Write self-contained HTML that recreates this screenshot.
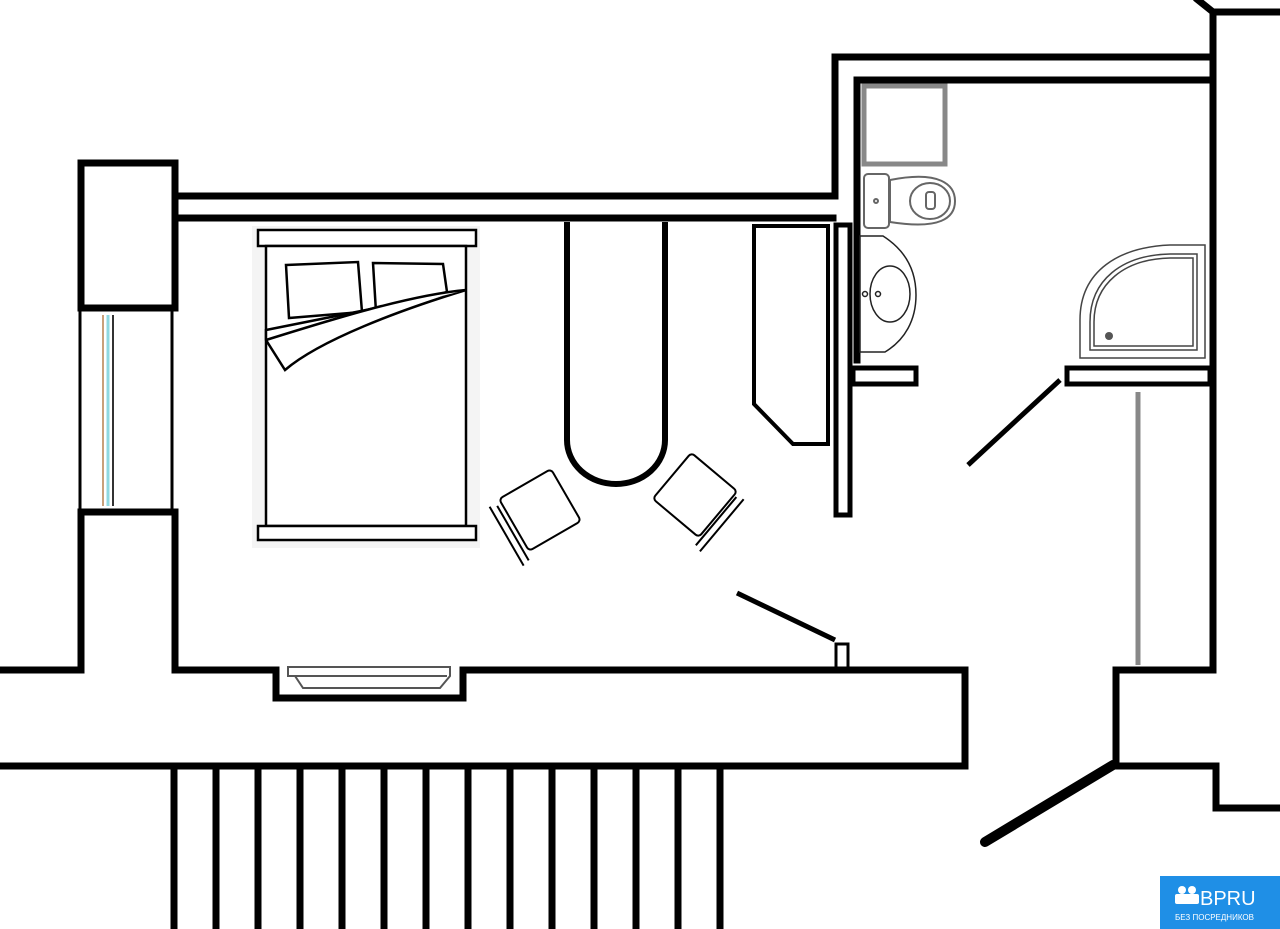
<!DOCTYPE html>
<html><head><meta charset="utf-8"><style>
html,body{margin:0;padding:0;background:#fff;width:1280px;height:929px;overflow:hidden}
svg{display:block}
</style></head><body>
<svg width="1280" height="929" viewBox="0 0 1280 929" xmlns="http://www.w3.org/2000/svg">
<rect width="1280" height="929" fill="#fff"/>
<g stroke="#000" fill="none" stroke-width="7" stroke-linecap="square">
  <rect x="81" y="163" width="94" height="145"/>
  <line x1="175" y1="196" x2="833" y2="196"/>
  <line x1="175" y1="218" x2="833" y2="218"/>
  <line x1="175" y1="218" x2="175" y2="308"/>
  <line x1="81" y1="512" x2="175" y2="512"/>
  <line x1="81" y1="512" x2="81" y2="670"/>
  <line x1="175" y1="512" x2="175" y2="670"/>
  <line x1="0" y1="670" x2="81" y2="670"/>
  <polyline points="175,670 276,670 276,698 463,698 463,670 965,670"/>
  <line x1="0" y1="766" x2="965" y2="766"/>
  <line x1="965" y1="670" x2="965" y2="766"/>
  <polyline points="835,196 835,57 1213,57"/>
  <line x1="857" y1="80" x2="1213" y2="80"/>
  <line x1="857" y1="80" x2="857" y2="360"/>
  <line x1="1213" y1="12" x2="1213" y2="670"/>
  <line x1="1213" y1="12" x2="1280" y2="12"/>
  <line x1="1198" y1="0" x2="1213" y2="12"/>
  <polyline points="1213,670 1116,670 1116,766 1216,766 1216,808 1280,808"/>
</g>
<g stroke="#000" fill="none" stroke-width="5">
  <rect x="836" y="225" width="14" height="290"/>
  <rect x="853" y="368" width="63" height="16"/>
  <rect x="1067" y="368" width="143" height="16"/>
</g>
<g stroke="#000" stroke-width="3">
  <line x1="80" y1="308" x2="80" y2="512"/>
  <line x1="172" y1="308" x2="172" y2="512"/>
</g>
<line x1="103" y1="315" x2="103" y2="506" stroke="#c9a07a" stroke-width="2"/>
<line x1="108" y1="315" x2="108" y2="506" stroke="#8fd8e0" stroke-width="3"/>
<line x1="113" y1="315" x2="113" y2="506" stroke="#333" stroke-width="2"/>
<g stroke="#000" stroke-width="7">
  <line x1="174" y1="766" x2="174" y2="929"/><line x1="216" y1="766" x2="216" y2="929"/>
  <line x1="258" y1="766" x2="258" y2="929"/><line x1="300" y1="766" x2="300" y2="929"/>
  <line x1="342" y1="766" x2="342" y2="929"/><line x1="384" y1="766" x2="384" y2="929"/>
  <line x1="426" y1="766" x2="426" y2="929"/><line x1="468" y1="766" x2="468" y2="929"/>
  <line x1="510" y1="766" x2="510" y2="929"/><line x1="552" y1="766" x2="552" y2="929"/>
  <line x1="594" y1="766" x2="594" y2="929"/><line x1="636" y1="766" x2="636" y2="929"/>
  <line x1="678" y1="766" x2="678" y2="929"/><line x1="720" y1="766" x2="720" y2="929"/>
</g>
<g stroke="#555" stroke-width="2" fill="#fff">
  <path d="M288,667 H450 V676 L440,688 H303 L295,676 H288 Z"/>
  <line x1="293" y1="676" x2="447" y2="676"/>
</g>
<rect x="252" y="226" width="228" height="322" fill="#f4f4f4"/>
<g stroke="#000" stroke-width="2.5" fill="#fff">
  <rect x="258" y="230" width="218" height="16"/>
  <rect x="266" y="246" width="200" height="280"/>
  <rect x="258" y="526" width="218" height="14"/>
  <path d="M286,265 L358,262 L362,312 L289,318 Z"/>
  <path d="M373,263 L443,264 L447,292 L376,312 Z"/>
  <path d="M266,330 L466,290 C400,310 320,340 285,370 L266,340 Z"/>
  <path d="M266,340 C330,320 410,295 466,290"/>
</g>
<path d="M567,222 V440 A49,44 0 0 0 665,440 V222" fill="none" stroke="#000" stroke-width="6"/>
<path d="M754,226 H828 V444 H793 L754,404 Z" fill="none" stroke="#000" stroke-width="4"/>
<g stroke="#000" stroke-width="2" fill="#fff">
  <g transform="translate(540,510) rotate(-30)"><rect x="-30" y="-30" width="60" height="60" rx="4"/><line x1="-42" y1="-28" x2="-42" y2="40"/><line x1="-35" y1="-25" x2="-35" y2="38"/></g>
  <g transform="translate(695,495) rotate(40)"><rect x="-30" y="-30" width="60" height="60" rx="4"/><line x1="40" y1="-28" x2="40" y2="40"/><line x1="33" y1="-25" x2="33" y2="38"/></g>
</g>
<line x1="737" y1="593" x2="835" y2="640" stroke="#000" stroke-width="5"/>
<rect x="836" y="644" width="12" height="24" fill="#fff" stroke="#000" stroke-width="3"/>
<line x1="1060" y1="380" x2="968" y2="465" stroke="#000" stroke-width="5"/>
<line x1="1138" y1="392" x2="1138" y2="665" stroke="#888" stroke-width="5"/>
<line x1="1113" y1="765" x2="985" y2="842" stroke="#000" stroke-width="10" stroke-linecap="round"/>
<rect x="864" y="86" width="81" height="78" fill="none" stroke="#888" stroke-width="5"/>
<g stroke="#666" stroke-width="2" fill="#fff">
  <rect x="864" y="174" width="25" height="54" rx="4"/>
  <path d="M890,180 C940,170 955,185 955,201 C955,218 940,230 890,222 Z"/>
  <ellipse cx="930" cy="201" rx="20" ry="18"/>
  <rect x="926" y="192" width="9" height="17" rx="3"/>
  <circle cx="876" cy="201" r="2"/>
</g>
<g stroke="#222" stroke-width="1.5" fill="#fff">
  <path d="M860,236 H883 C905,250 916,270 916,295 C916,320 905,340 885,352 H860 Z"/>
  <ellipse cx="890" cy="294" rx="20" ry="28"/>
  <circle cx="865" cy="294" r="2.5"/><circle cx="878" cy="294" r="2.5"/>
</g>
<g stroke="#444" stroke-width="1.5" fill="#fff">
  <path d="M1080,358 V320 C1080,270 1120,247 1170,245 H1205 V358 Z"/>
  <path d="M1090,350 V322 C1090,280 1122,255 1170,254 H1197 V350 Z"/>
  <path d="M1094,346 V322 C1094,284 1124,259 1170,258 H1193 V346 Z"/>
</g>
<circle cx="1109" cy="336" r="4" fill="#555"/>
<rect x="1160" y="876" width="120" height="53" fill="#1f8fe6"/>
<text x="1200" y="905" font-family="Liberation Sans, sans-serif" font-size="20" fill="#fff">BPRU</text>
<text x="1175" y="920" font-family="Liberation Sans, sans-serif" font-size="8" fill="#fff">БЕЗ ПОСРЕДНИКОВ</text>
<circle cx="1182" cy="890" r="4" fill="#fff"/><circle cx="1192" cy="890" r="4" fill="#fff"/>
<rect x="1175" y="894" width="24" height="10" rx="2" fill="#fff"/>
</svg>
</body></html>
